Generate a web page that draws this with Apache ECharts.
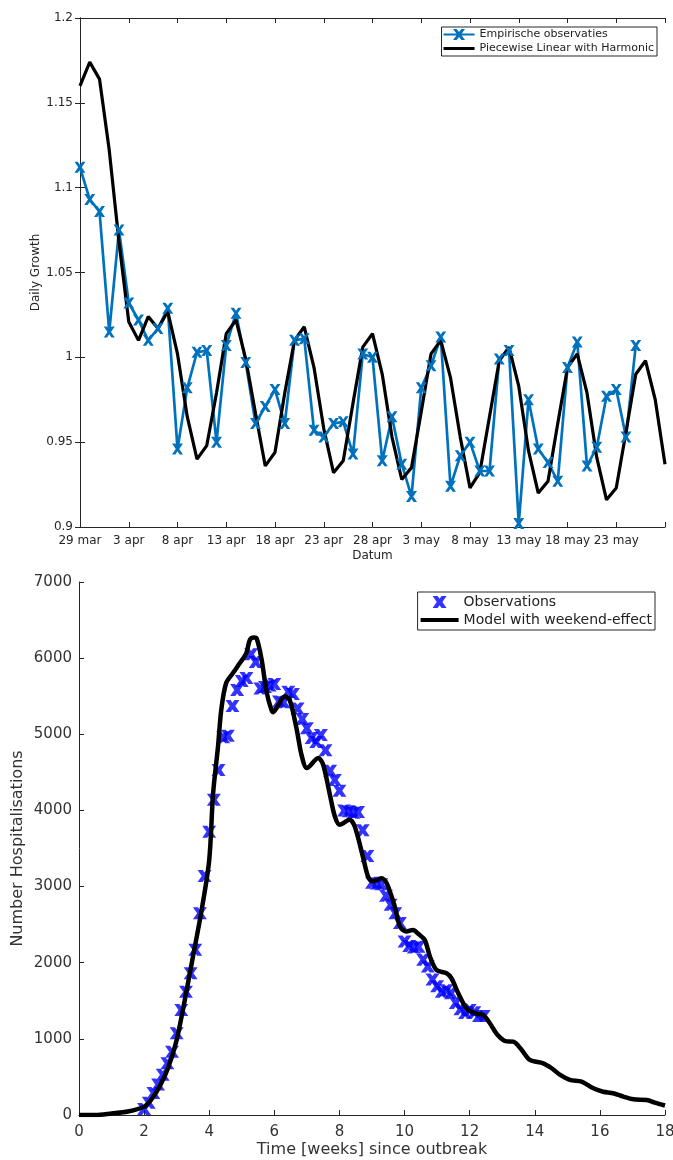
<!DOCTYPE html>
<html>
<head>
<meta charset="utf-8">
<script src="https://cdn.jsdelivr.net/npm/echarts@6/dist/echarts.min.js"></script>
<style>
  html, body { margin: 0; padding: 0; background: #fff; }
  #chart { width: 673px; height: 1160px; }
</style>
</head>
<body>
<div id="chart"></div>
<script>
// top panel: daily growth per day since 29 mar
const growthTickLabels = ['29 mar', '3 apr', '8 apr', '13 apr', '18 apr', '23 apr', '28 apr',
    '3 may', '8 may', '13 may', '18 may', '23 may', ''];
const growthYLabels = ['0.9', '0.95', '1', '1.05', '1.1', '1.15', '1.2'];
const observedGrowth = [
    1.112, 1.093, 1.086, 1.015, 1.075, 1.032, 1.022, 1.010, 1.017, 1.029,
    0.946, 0.982, 1.003, 1.004, 0.950, 1.007, 1.026, 0.997, 0.961, 0.971,
    0.981, 0.961, 1.010, 1.011, 0.957, 0.953, 0.961, 0.962, 0.943, 1.002,
    1.000, 0.939, 0.965, 0.937, 0.918, 0.982, 0.995, 1.012, 0.924, 0.942,
    0.950, 0.933, 0.933, 0.999, 1.004, 0.902, 0.975, 0.946, 0.938, 0.927,
    0.994, 1.009, 0.936, 0.947, 0.977, 0.981, 0.953, 1.007
];
const modelGrowth = [
    1.160, 1.174, 1.164, 1.122, 1.068, 1.021, 1.010, 1.024, 1.017, 1.027,
    1.002, 0.965, 0.940, 0.948, 0.979, 1.014, 1.022, 0.999, 0.967, 0.936,
    0.944, 0.979, 1.010, 1.018, 0.994, 0.958, 0.932, 0.939, 0.973, 1.006,
    1.014, 0.990, 0.953, 0.928, 0.935, 0.968, 1.002, 1.010, 0.988, 0.953,
    0.923, 0.932, 0.965, 0.998, 1.006, 0.983, 0.945, 0.920, 0.927, 0.961,
    0.994, 1.002, 0.979, 0.941, 0.916, 0.923, 0.956, 0.990, 0.998, 0.975,
    0.937
];

// bottom panel: hospitalisations, observations are daily starting at day 14
const obsStartDay = 14;
const hospObserved = [
    80, 160, 290, 400, 530, 680, 830, 1075, 1380, 1620,
    1860, 2170, 2650, 3140, 3720, 4140, 4530, 4960, 4980, 5370,
    5580, 5700, 5740, 6050, 5950, 5600, 5620, 5640, 5660, 5430,
    5420, 5560, 5530, 5340, 5200, 5080, 4950, 4900, 4990, 4790,
    4520, 4400, 4260, 4000, 3990, 3970, 3980, 3740, 3400, 3050,
    3040, 3030, 2880, 2760, 2650, 2520, 2280, 2220, 2200, 2210,
    2040, 1950, 1780, 1690, 1620, 1640, 1600, 1470, 1390, 1340,
    1380, 1350, 1300, 1300
];
const modelWeeks = [
    0, 0.5, 1.0, 1.5, 2.0, 2.25, 2.5, 2.75, 3.0, 3.25, 3.5, 3.75, 4.0, 4.12, 4.27, 4.37,
    4.52, 4.73, 4.94, 5.14, 5.25, 5.38, 5.45, 5.61, 5.76, 5.91, 5.97, 6.06, 6.32, 6.47,
    6.68, 6.84, 7.0, 7.35, 7.5, 7.71, 7.86, 8.01, 8.31, 8.47, 8.72, 8.88, 9.03, 9.29,
    9.45, 9.7, 9.86, 10.06, 10.26, 10.42, 10.62, 10.78, 10.98, 11.29, 11.44, 11.65, 11.9,
    12.16, 12.41, 12.62, 12.84, 13.1, 13.34, 13.6, 13.85, 14.26, 14.52, 14.78, 15.08,
    15.44, 15.8, 16.1, 16.41, 16.72, 17.03, 17.44, 17.69, 18.0
];
const modelHosp = [
    0, 0, 20, 45, 110, 220, 394, 635, 985, 1511, 2080, 2650, 3350, 4227, 4840, 5322,
    5673, 5804, 5935, 6067, 6242, 6270, 6264, 5980, 5560, 5322, 5290, 5340, 5497, 5453,
    5080, 4720, 4556, 4687, 4600, 4200, 3920, 3811, 3876, 3789, 3394, 3131, 3066, 3110,
    3045, 2737, 2474, 2409, 2431, 2380, 2300, 2080, 1905, 1862, 1796, 1599, 1402,
    1336, 1314, 1205, 1060, 970, 963, 854, 723, 679, 614, 526, 460,
    438, 351, 306, 285, 241, 206, 197, 162, 125
];

const FONT = 'DejaVu Sans';
const AXIS = '#262626';
const xMark = 'path://M0,0 L3,0 L5,2.8 L7,0 L10,0 L6.6,5 L10,10 L7,10 L5,7.2 L3,10 L0,10 L3.4,5 Z';
const xMarkBold = 'path://M0,0 L3.6,0 L5,2.2 L6.4,0 L10,0 L7,5 L10,10 L6.4,10 L5,7.8 L3.6,10 L0,10 L3,5 Z';

// legend icons (31x11 for the top legend, 38x13 for the bottom one)
const iconBlueLine = 'path://M0,4.4 L31,4.4 L31,6.6 L0,6.6 Z ' +
    'M9.5,0 L13.1,0 L15.5,3.08 L17.9,0 L21.5,0 L17.42,5.5 L21.5,11 L17.9,11 L15.5,7.92 L13.1,11 L9.5,11 L13.58,5.5 Z';
const iconBlackTop = 'path://M0,0 L0.01,0 L0.01,0.01 Z M0,4 L31,4 L31,7 L0,7 Z M31,11 L30.99,11 L30.99,10.99 Z';
const iconCross = 'path://M0,0 L0.01,0 L0.01,0.01 Z ' +
    'M12,0.5 L17.04,0.5 L19,3.14 L20.96,0.5 L26,0.5 L21.8,6.5 L26,12.5 L20.96,12.5 L19,9.86 L17.04,12.5 L12,12.5 L16.2,6.5 Z ' +
    'M38,13 L37.99,13 L37.99,12.99 Z';
const iconBlackBottom = 'path://M0,0 L0.01,0 L0.01,0.01 Z M0,4.6 L38,4.6 L38,8.4 L0,8.4 Z M38,13 L37.99,13 L37.99,12.99 Z';

const chart = echarts.init(document.getElementById('chart'));

function frameAxis(extra) {
    return Object.assign({
        axisLine: {show: true, lineStyle: {color: AXIS, width: 1}},
        axisTick: {show: true, inside: true, length: 5, lineStyle: {color: AXIS}},
        splitLine: {show: false},
        nameMoveOverlap: false
    }, extra);
}

chart.setOption({
    animation: false,
    textStyle: {fontFamily: FONT},
    grid: [
        {left: 80, right: 8, top: 18, bottom: 633, containLabel: false, outerBoundsMode: 'none'},
        {left: 79, right: 8, top: 582, bottom: 45, containLabel: false, outerBoundsMode: 'none'}
    ],
    legend: [
        {
            data: [
                {name: 'Empirische observaties', icon: iconBlueLine},
                {name: 'Piecewise Linear with Harmonic', icon: iconBlackTop}
            ],
            orient: 'vertical', right: 16, top: 27,
            padding: [2, 3, 2, 2], itemGap: 3, itemWidth: 31, itemHeight: 11,
            borderColor: AXIS, borderWidth: 1, backgroundColor: '#fff',
            selectedMode: false, symbolKeepAspect: false,
            textStyle: {fontFamily: FONT, fontSize: 11, color: '#222'}
        },
        {
            data: [
                {name: 'Observations', icon: iconCross},
                {name: 'Model with weekend-effect', icon: iconBlackBottom}
            ],
            orient: 'vertical', right: 18, top: 592,
            padding: [3, 3, 3, 3], itemGap: 4, itemWidth: 38, itemHeight: 13,
            borderColor: AXIS, borderWidth: 1, backgroundColor: '#fff',
            selectedMode: false, symbolKeepAspect: false,
            textStyle: {fontFamily: FONT, fontSize: 14, color: '#222'}
        }
    ],
    xAxis: [
        frameAxis({
            gridIndex: 0, type: 'value', min: 0, max: 60, interval: 5, position: 'bottom',
            axisLabel: {
                fontSize: 12, color: AXIS, margin: 8,
                formatter: v => growthTickLabels[Math.round(v / 5)]
            },
            name: 'Datum', nameLocation: 'middle', nameGap: 23,
            nameTextStyle: {fontSize: 12, color: AXIS}
        }),
        frameAxis({
            gridIndex: 0, type: 'value', min: 0, max: 60, interval: 5, position: 'top',
            axisLabel: {show: false}
        }),
        frameAxis({
            gridIndex: 1, type: 'value', min: 0, max: 18, interval: 2, position: 'bottom',
            axisLabel: {fontSize: 15, color: '#333', margin: 10},
            name: 'Time [weeks] since outbreak', nameLocation: 'middle', nameGap: 27,
            nameTextStyle: {fontSize: 16, color: '#333'}
        })
    ],
    yAxis: [
        frameAxis({
            gridIndex: 0, type: 'value', min: 0.9, max: 1.2, interval: 0.05, position: 'left',
            axisLabel: {
                fontSize: 12, color: AXIS, margin: 7,
                formatter: v => growthYLabels[Math.round((v - 0.9) / 0.05)]
            },
            name: 'Daily Growth', nameLocation: 'middle', nameGap: 38,
            nameTextStyle: {fontSize: 12, color: AXIS}
        }),
        frameAxis({
            gridIndex: 0, type: 'value', min: 0.9, max: 1.2, interval: 0.05, position: 'right',
            axisLabel: {show: false}
        }),
        frameAxis({
            gridIndex: 1, type: 'value', min: 0, max: 7000, interval: 1000, position: 'left',
            axisLabel: {fontSize: 15, color: '#333', margin: 7, formatter: v => String(v)},
            name: 'Number Hospitalisations', nameLocation: 'middle', nameGap: 53,
            nameTextStyle: {fontSize: 16, color: '#333'}
        })
    ],
    series: [
        {
            name: 'Empirische observaties', type: 'line',
            xAxisIndex: 0, yAxisIndex: 0,
            data: observedGrowth.map((v, i) => [i, v]),
            symbol: xMark, symbolSize: 11, showSymbol: true,
            itemStyle: {color: '#0072BD'},
            lineStyle: {color: '#0072BD', width: 2.7}
        },
        {
            name: 'Piecewise Linear with Harmonic', type: 'line',
            xAxisIndex: 0, yAxisIndex: 0,
            data: modelGrowth.map((v, i) => [i, v]),
            symbol: 'none',
            itemStyle: {color: '#000'},
            lineStyle: {color: '#000', width: 3.2}
        },
        {
            name: 'Observations', type: 'scatter',
            xAxisIndex: 2, yAxisIndex: 2,
            data: hospObserved.map((v, i) => [(obsStartDay + i) / 7, v]),
            symbol: xMarkBold, symbolSize: [14, 12],
            itemStyle: {color: '#0000FF'}
        },
        {
            name: 'Model with weekend-effect', type: 'line',
            xAxisIndex: 2, yAxisIndex: 2,
            data: modelWeeks.map((w, i) => [w, modelHosp[i]]),
            smooth: 0.3, symbol: 'none',
            itemStyle: {color: '#000'},
            lineStyle: {color: '#000', width: 4.5}
        }
    ]
});
</script>
</body>
</html>
